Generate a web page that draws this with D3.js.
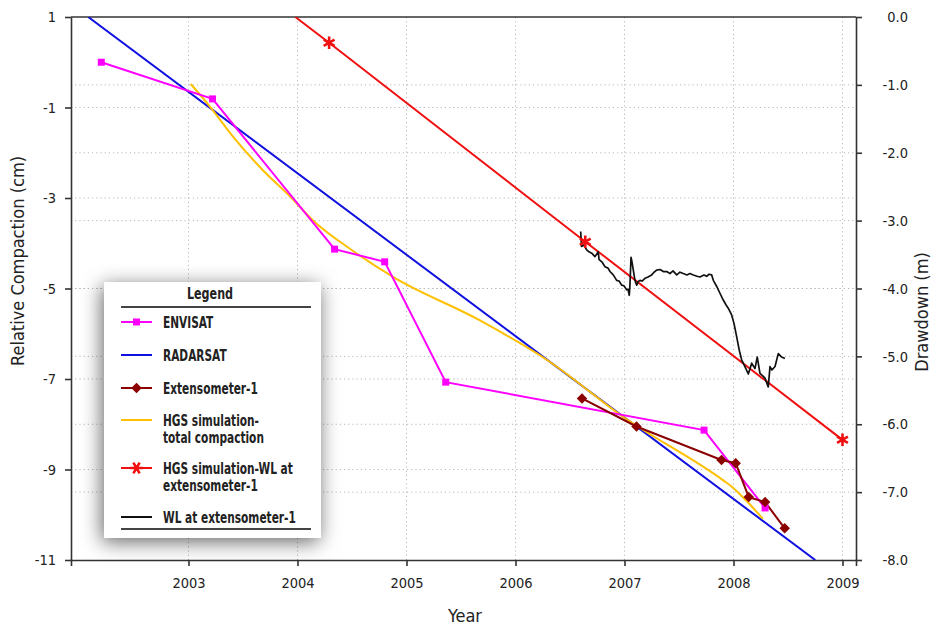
<!DOCTYPE html>
<html>
<head>
<meta charset="utf-8">
<script src="https://cdn.jsdelivr.net/npm/d3@7"></script>
<style>
body { margin: 0; background: #fff; }
svg text { font-family: "DejaVu Sans Condensed", "DejaVu Sans", sans-serif; font-stretch: condensed; fill: #222; }
.legend text { font-family: "Liberation Sans Narrow", "DejaVu Sans Condensed", sans-serif; font-weight: bold; font-size: 15.5px; }
.grid line { stroke: #b8b8b8; stroke-width: 1; stroke-dasharray: 1.2 3; }
.axis path, .axis line { stroke: #333; stroke-width: 1.6; }
.axis text { font-size: 14.5px; }
</style>
</head>
<body>
<svg id="chart" width="934" height="626"></svg>
<script>
// tick labels
var yearTicks = [2003, 2004, 2005, 2006, 2007, 2008, 2009];
var compactionTicks = [1, -1, -3, -5, -7, -9, -11];
var drawdownTicks = [0, -1, -2, -3, -4, -5, -6, -7, -8];

// series, [year, value]
var envisat = [[2002.20, 0.0], [2003.22, -0.81], [2004.34, -4.13], [2004.80, -4.41],
    [2005.36, -7.07], [2007.73, -8.13], [2008.29, -9.85]];
var radarsat = [[2002.08, 1.0], [2008.75, -11.0]];
var extensometer = [[2006.61, -7.43], [2007.11, -8.05], [2007.89, -8.79], [2008.02, -8.86],
    [2008.14, -9.61], [2008.29, -9.72], [2008.47, -10.30]];
var hgsTotal = [[2003.02, -0.48], [2003.20, -0.99], [2003.41, -1.65], [2003.68, -2.38],
    [2003.93, -2.96], [2004.14, -3.49], [2004.51, -4.17], [2004.88, -4.75], [2005.67, -5.70],
    [2006.29, -6.58], [2006.99, -7.84], [2007.90, -9.23], [2007.99, -9.39], [2008.11, -9.67],
    [2008.27, -10.09]];
// drawdown (m), right axis
var hgsWL = [[2003.98, 0.0], [2004.29, -0.38], [2006.64, -3.31], [2009.00, -6.23]];
var hgsWLMarks = [[2004.29, -0.38], [2006.64, -3.31], [2009.00, -6.23]];
var wlExt = [[2006.598, -3.16], [2006.606, -3.38], [2006.628, -3.36], [2006.653, -3.43],
    [2006.674, -3.46], [2006.699, -3.48], [2006.729, -3.53], [2006.760, -3.46], [2006.766, -3.57],
    [2006.794, -3.61], [2006.821, -3.68], [2006.849, -3.70], [2006.867, -3.75], [2006.897, -3.80],
    [2006.928, -3.88], [2006.950, -3.89], [2006.974, -3.95], [2006.995, -3.96], [2007.020, -4.02],
    [2007.032, -4.01], [2007.044, -4.10], [2007.050, -3.95], [2007.060, -3.54], [2007.069, -3.61],
    [2007.081, -3.73], [2007.096, -3.88], [2007.112, -3.95], [2007.124, -3.90], [2007.142, -3.88],
    [2007.161, -3.89], [2007.188, -3.85], [2007.216, -3.83], [2007.249, -3.80], [2007.271, -3.76],
    [2007.295, -3.73], [2007.326, -3.72], [2007.356, -3.75], [2007.387, -3.75], [2007.417, -3.78],
    [2007.445, -3.74], [2007.479, -3.80], [2007.509, -3.76], [2007.539, -3.78], [2007.573, -3.80],
    [2007.601, -3.78], [2007.631, -3.80], [2007.665, -3.82], [2007.693, -3.83], [2007.729, -3.80],
    [2007.754, -3.82], [2007.775, -3.79], [2007.800, -3.80], [2007.815, -3.88], [2007.846, -3.97],
    [2007.876, -4.07], [2007.906, -4.17], [2007.931, -4.24], [2007.952, -4.29], [2007.983, -4.39],
    [2008.004, -4.51], [2008.029, -4.71], [2008.053, -4.91], [2008.075, -5.05], [2008.105, -5.15],
    [2008.136, -5.26], [2008.167, -5.10], [2008.197, -5.18], [2008.218, -5.01], [2008.243, -5.25],
    [2008.271, -5.29], [2008.289, -5.32], [2008.319, -5.45], [2008.335, -5.15], [2008.353, -5.20],
    [2008.381, -5.15], [2008.411, -4.96], [2008.442, -5.01], [2008.472, -5.03]];

var legendItems = [
    {label: ["ENVISAT"], color: "#ff00ff", mark: "square"},
    {label: ["RADARSAT"], color: "#1010e0", mark: null},
    {label: ["Extensometer-1"], color: "#8b0000", mark: "diamond"},
    {label: ["HGS simulation-", "total compaction"], color: "#ffc000", mark: null},
    {label: ["HGS simulation-WL at", "extensometer-1"], color: "#f01010", mark: "star"},
    {label: ["WL at extensometer-1"], color: "#111", mark: null}
];

var margin = {top: 17, right: 78, bottom: 66, left: 71},
    width = 934 - margin.left - margin.right,
    height = 626 - margin.top - margin.bottom;

var svg = d3.select("#chart");

var defs = svg.append("defs");
defs.append("clipPath").attr("id", "plotClip")
    .append("rect").attr("width", width).attr("height", height);
var shadow = defs.append("filter").attr("id", "shadow")
    .attr("x", "-30%").attr("y", "-30%").attr("width", "160%").attr("height", "160%");
shadow.append("feDropShadow")
    .attr("dx", -2).attr("dy", 4)
    .attr("stdDeviation", 10)
    .attr("flood-color", "#000")
    .attr("flood-opacity", 0.6);

var g = svg.append("g")
    .attr("transform", "translate(" + margin.left + "," + margin.top + ")");

var x = d3.scaleLinear().domain([2001.922, 2009.124]).range([0, width]);
var yL = d3.scaleLinear().domain([-11, 1]).range([height, 0]);
var yR = d3.scaleLinear().domain([-8, 0]).range([height, 0]);

// dotted grid
var grid = g.append("g").attr("class", "grid");
grid.selectAll(".vg")
    .data(yearTicks)
    .enter().append("line")
    .attr("x1", function(d) { return x(d); })
    .attr("x2", function(d) { return x(d); })
    .attr("y1", 0).attr("y2", height);
grid.selectAll(".hl")
    .data(compactionTicks.slice(1, -1))
    .enter().append("line")
    .attr("x1", 0).attr("x2", width)
    .attr("y1", function(d) { return yL(d); })
    .attr("y2", function(d) { return yL(d); });
grid.selectAll(".hr")
    .data(drawdownTicks.slice(1, -1))
    .enter().append("line")
    .attr("x1", 0).attr("x2", width)
    .attr("y1", function(d) { return yR(d); })
    .attr("y2", function(d) { return yR(d); });

// axes
g.append("g")
    .attr("class", "axis")
    .attr("transform", "translate(0," + height + ")")
    .call(d3.axisBottom(x).tickValues(yearTicks).tickSize(6).tickSizeOuter(6).tickPadding(12)
        .tickFormat(function(d) { return String(d); }));

g.append("g")
    .attr("class", "axis")
    .call(d3.axisLeft(yL).tickValues(compactionTicks).tickSize(6).tickSizeOuter(0).tickPadding(9)
        .tickFormat(function(d) { return String(d); }));

var rAxis = g.append("g")
    .attr("class", "axis")
    .attr("transform", "translate(" + width + ",0)")
    .call(d3.axisRight(yR).tickValues(drawdownTicks).tickSize(6).tickSizeOuter(0).tickPadding(46)
        .tickFormat(function(d) { return d.toFixed(1); }));
rAxis.selectAll("text").attr("text-anchor", "end");

g.append("line")
    .attr("x1", 0).attr("x2", width).attr("y1", 0).attr("y2", 0)
    .attr("stroke", "#333").attr("stroke-width", 1.6);

// axis titles
svg.append("text")
    .attr("transform", "translate(24,261) rotate(-90)")
    .attr("text-anchor", "middle")
    .style("font-size", "18px")
    .text("Relative Compaction (cm)");

svg.append("text")
    .attr("transform", "translate(928,312) rotate(-90)")
    .attr("text-anchor", "middle")
    .style("font-size", "18px")
    .text("Drawdown (m)");

svg.append("text")
    .attr("x", 465).attr("y", 622)
    .attr("text-anchor", "middle")
    .style("font-size", "18px")
    .text("Year");

// series
var plot = g.append("g").attr("clip-path", "url(#plotClip)");

var lineL = d3.line()
    .x(function(d) { return x(d[0]); })
    .y(function(d) { return yL(d[1]); });
var curveL = d3.line()
    .x(function(d) { return x(d[0]); })
    .y(function(d) { return yL(d[1]); })
    .curve(d3.curveMonotoneX);
var lineR = d3.line()
    .x(function(d) { return x(d[0]); })
    .y(function(d) { return yR(d[1]); });

plot.append("path").datum(hgsWL)
    .attr("fill", "none").attr("stroke", "#f01010").attr("stroke-width", 2)
    .attr("d", lineR);

plot.append("path").datum(wlExt)
    .attr("fill", "none").attr("stroke", "#111").attr("stroke-width", 1.7)
    .attr("stroke-linejoin", "round")
    .attr("d", lineR);

plot.append("path").datum(radarsat)
    .attr("fill", "none").attr("stroke", "#1010e0").attr("stroke-width", 2)
    .attr("d", lineL);

plot.append("path").datum(hgsTotal)
    .attr("fill", "none").attr("stroke", "#ffc000").attr("stroke-width", 2)
    .attr("d", curveL);

plot.append("path").datum(envisat)
    .attr("fill", "none").attr("stroke", "#ff00ff").attr("stroke-width", 2)
    .attr("d", lineL);

plot.append("path").datum(extensometer)
    .attr("fill", "none").attr("stroke", "#8b0000").attr("stroke-width", 2)
    .attr("d", lineL);

plot.selectAll(".env-mark")
    .data(envisat)
    .enter().append("rect")
    .attr("fill", "#ff00ff")
    .attr("x", function(d) { return x(d[0]) - 3.5; })
    .attr("y", function(d) { return yL(d[1]) - 3.5; })
    .attr("width", 7).attr("height", 7);

var diamond = d3.symbol().type(d3.symbolSquare).size(55);
plot.selectAll(".ext-mark")
    .data(extensometer)
    .enter().append("path")
    .attr("fill", "#8b0000")
    .attr("transform", function(d) {
        return "translate(" + x(d[0]) + "," + yL(d[1]) + ") rotate(45)";
    })
    .attr("d", diamond);

var star = d3.symbol().type(d3.symbolAsterisk).size(110);
plot.selectAll(".wl-mark")
    .data(hgsWLMarks)
    .enter().append("path")
    .attr("fill", "none").attr("stroke", "#f01010").attr("stroke-width", 2.6)
    .attr("transform", function(d) {
        return "translate(" + x(d[0]) + "," + yR(d[1]) + ")";
    })
    .attr("d", star);

// legend
var legend = svg.append("g").attr("class", "legend");
legend.append("rect")
    .attr("x", 104).attr("y", 282)
    .attr("width", 217).attr("height", 256)
    .attr("fill", "#fff")
    .attr("filter", "url(#shadow)");

legend.append("text")
    .attr("transform", "translate(210,294) scale(0.8,1)")
    .attr("dy", "0.35em")
    .attr("text-anchor", "middle")
    .text("Legend");

legend.selectAll(".rule")
    .data([307, 529])
    .enter().append("line")
    .attr("x1", 121).attr("x2", 311)
    .attr("y1", function(d) { return d; })
    .attr("y2", function(d) { return d; })
    .attr("stroke", "#444").attr("stroke-width", 2);

var itemY = [322, 355, 388, 420, 468, 517];

var items = legend.selectAll(".item")
    .data(legendItems)
    .enter().append("g")
    .attr("transform", function(d, i) { return "translate(0," + itemY[i] + ")"; });

items.append("line")
    .attr("x1", 121).attr("x2", 152)
    .attr("stroke", function(d) { return d.color; })
    .attr("stroke-width", 2);

items.filter(function(d) { return d.mark === "square"; })
    .append("rect")
    .attr("x", 133).attr("y", -3.5).attr("width", 7).attr("height", 7)
    .attr("fill", function(d) { return d.color; });

items.filter(function(d) { return d.mark === "diamond"; })
    .append("path")
    .attr("transform", "translate(136.5,0) rotate(45)")
    .attr("d", diamond)
    .attr("fill", function(d) { return d.color; });

items.filter(function(d) { return d.mark === "star"; })
    .append("path")
    .attr("transform", "translate(136.5,0) rotate(30)")
    .attr("d", star)
    .attr("fill", "none")
    .attr("stroke", function(d) { return d.color; })
    .attr("stroke-width", 2.6);

// narrow lettering, squeezed sideways like the source
items.append("text")
    .attr("transform", "translate(163,0) scale(0.76,1)")
    .selectAll("tspan")
    .data(function(d) { return d.label; })
    .enter().append("tspan")
    .attr("x", 0)
    .attr("y", function(d, i) { return i * 17.5; })
    .attr("dy", "0.36em")
    .text(function(d) { return d; });
</script>
</body>
</html>
